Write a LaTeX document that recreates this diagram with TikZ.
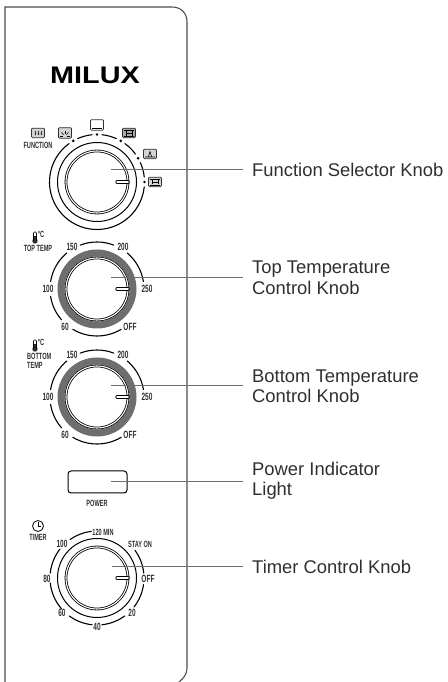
\documentclass[tikz,border=0pt]{standalone}
\usepackage{fontspec}
\setmainfont{Liberation Sans}
\newfontfamily\dialfont[FakeStretch=.62]{Liberation Sans}
\newfontfamily\logofont[FakeStretch=1.2]{Liberation Sans}
\tikzset{
  knobface/.style={circle,draw,fill=white,double=white,double distance=1.1,line width=.8,minimum size=62,inner sep=0,outer sep=0},
  plainring/.style={circle,draw,line width=1,minimum size=79,inner sep=0,outer sep=0},
  grayring/.style={circle,draw=ringgray,line width=7,minimum size=72,inner sep=0,outer sep=0},
  notch/.style={draw,double=white,double distance=1.8,line width=.7,line cap=round},
  dialarc/.style={line width=1.1,line cap=round},
  dialtext/.style={font=\dialfont\bfseries\fontsize{10.5}{11}\selectfont,text=textgray,inner sep=0},
  smalltext/.style={font=\dialfont\bfseries\fontsize{9}{9}\selectfont,text=textgray,inner sep=0},
  iconbox/.style={draw=textgray,line width=.7,rounded corners=1,minimum width=13,minimum height=9.5,inner sep=0},
  leader/.style={line width=.8,draw=ringgray},
  calltext/.style={font=\fontsize{18.4}{20.5}\selectfont,text=textgray,align=left,anchor=west,inner sep=0},
}
\definecolor{ringgray}{HTML}{6E6E6E}
\definecolor{textgray}{HTML}{2F2F2F}
\definecolor{icongray}{HTML}{D4D4D4}
\begin{document}
\begin{tikzpicture}[x=1pt,y=1pt]
  \useasboundingbox (0,0) rectangle (447,682);

  % panel outline
  \draw [line width=1.1,draw=ringgray!70!black] (5,0) -- (5,675) -- (172,675)
    .. controls (181,675) and (187,669) .. (187,660) -- (187,14)
    .. controls (187,8) and (184,4) .. (179,0);

  \node (logo) at (95,607) {\logofont\bfseries\fontsize{24}{24}\selectfont MILUX};

  % knobs
  \node (functionring) [plainring] at (97,500) {};
  \node (topring)      [grayring]  at (97,393) {};
  \node (bottomring)   [grayring]  at (97,285) {};
  \node (timerring)    [plainring] at (97,104) {};

  \node (functionknob) [knobface] at (97,500) {};
  \node (topknob)      [knobface] at (97,393) {};
  \node (bottomknob)   [knobface] at (97,285) {};
  \node (timerknob)    [knobface] at (97,104) {};

  \foreach \k in {functionknob,topknob,bottomknob,timerknob}
    \draw [notch] ([xshift=20]\k.center) -- ([xshift=31]\k.center);

  % function scale
  \draw [dialarc] ([shift=(126:47.5)]functionknob.center) arc [start angle=126,end angle=354,radius=47.5];
  \foreach \a in {6,36,66,96}
    \draw [dialarc] ([shift=(\a:47.5)]functionknob.center) arc [start angle=\a,delta angle=18,radius=47.5];
  \foreach \a in {0,30,60,90,120}
    \fill ([shift=(\a:47.5)]functionknob.center) circle (1.4);

  % temperature scales
  \foreach \k in {topknob,bottomknob}
    \foreach \from/\to in {69/111,130/171,189/221,239/301,9/50}
      \draw [dialarc] ([shift=(\from:47)]\k.center) arc [start angle=\from,end angle=\to,radius=47];

  % timer scale
  \foreach \from/\to in {97/125,142/174,186/221,234/264,276/306,322/352,6/36}
    \draw [dialarc] ([shift=(\from:47)]timerknob.center) arc [start angle=\from,end angle=\to,radius=47];

  % function icons
  \node (bakeicon)  [iconbox,fill=icongray] at (38,549) {};
  \node (sunicon)   [iconbox,fill=icongray,minimum height=10.5] at (65,549) {};
  \node (ovenicon)  [iconbox,minimum height=10.5] at (97,557) {};
  \node (grillicon) [iconbox,fill=ringgray!60] at (129,549) {};
  \node (fanicon)   [iconbox,fill=icongray] at (150,528) {};
  \node (dualicon)  [iconbox,fill=icongray] at (155,500) {};
  \foreach \d in {-3,0,3}
    \draw [line width=.6] ([xshift=\d,yshift=-2]bakeicon.center) -- ++(1,1) -- ++(-1,1) -- ++(1,2);
  \foreach \a in {0,45,...,180}
    \draw [line width=.5] ([yshift=-3]sunicon.center) ++(\a:2) -- ++(\a:3);
  \draw [line width=.6] ([yshift=-3.5]ovenicon.center) ++(-5,0) -- ++(10,0);
  \foreach \k/\d in {grillicon/3,grillicon/-3,dualicon/3,dualicon/-3}
    \draw [line width=.6] ([yshift=\d]\k.center) ++(-5,0) -- ++(10,0);
  \draw [line width=.7] (grillicon.center) ++(-3,-3) -- ++(0,6) ++(6,-6) -- ++(0,6) (grillicon.center) ++(-3,0) -- ++(6,0);
  \draw [line width=.7] (dualicon.center) ++(-3,-2) -- ++(0,4) ++(6,-4) -- ++(0,4) (dualicon.center) ++(-3,0) -- ++(6,0);
  \draw [line width=.6] (fanicon.center) ++(-1.5,-2.5) -- ++(1.5,5) -- ++(1.5,-5) (fanicon.center) ++(-5,-3) -- ++(10,0);

  \node (functiontext) [smalltext] at (38,537) {FUNCTION};

  % thermometers
  \foreach \n/\x/\y in {topthermo/35/441,bottomthermo/35/333}{
    \fill [textgray] (\x,\y) circle (2.7);
    \draw [line width=.6,rounded corners=1] (\x-1.5,\y) -- (\x-1.5,\y+9) -- (\x+1.5,\y+9) -- (\x+1.5,\y);
    \fill [textgray] (\x-.6,\y) rectangle (\x+.6,\y+5);
  }
  \node (topdegree)    [smalltext] at (41,448) {°C};
  \node (bottomdegree) [smalltext] at (41,340) {°C};
  \node (toptemp)      [smalltext] at (38,434) {TOP TEMP};
  \node (bottomtemp)   [smalltext,align=left,anchor=west] at (27,321) {BOTTOM\\TEMP};

  % top and bottom numbers
  \foreach \k/\yy in {top/393,bottom/285}{
    \node (\k150) [dialtext] at (72,\yy+42) {150};
    \node (\k200) [dialtext] at (123,\yy+42) {200};
    \node (\k100) [dialtext] at (48,\yy) {100};
    \node (\k250) [dialtext] at (147,\yy) {250};
    \node (\k60)  [dialtext] at (65,\yy-38) {60};
    \node (\k off) [dialtext] at (130,\yy-38) {OFF};
  }

  % power light
  \node (powerlight) [draw,line width=1,rounded corners=3,minimum width=59,minimum height=22,inner sep=0] at (97.5,200) {};
  \node (powertext)  [smalltext] at (97,179) {POWER};

  % timer
  \node (clockface) [circle,draw,line width=.8,minimum size=11,inner sep=0] at (38,156) {};
  \draw [line width=.7] (clockface.center) -- ++(0,4) (clockface.center) -- ++(3,0);
  \node (timertext) [smalltext] at (38,145) {TIMER};
  \node (timer120) [smalltext] at (103,150) {120 MIN};
  \node (timer100) [dialtext] at (62,138) {100};
  \node (timerstay) [smalltext] at (140,138) {STAY ON};
  \node (timer80)  [dialtext] at (47,103) {80};
  \node (timeroff) [dialtext] at (148,103) {OFF};
  \node (timer60)  [dialtext] at (62,69) {60};
  \node (timer20)  [dialtext] at (132,69) {20};
  \node (timer40)  [dialtext] at (97,55) {40};

  % callouts
  \coordinate (functionstart) at (111,513);
  \coordinate (topstart)      at (111,405);
  \coordinate (bottomstart)   at (111,297);
  \coordinate (powerstart)    at (111,201);
  \coordinate (timerstart)    at (112,116);
  \coordinate (functionend)   at (243,513);
  \coordinate (topend)        at (243,405);
  \coordinate (bottomend)     at (243,297);
  \coordinate (powerend)      at (243,201);
  \coordinate (timerend)      at (243,116);

  \foreach \k in {function,top,bottom,power,timer}
    \draw [leader] (\k start) -- (\k end);

  \node (functionlabel) [calltext] at (252,512) {Function Selector Knob};
  \node (toplabel)      [calltext] at (252,404) {Top Temperature\\Control Knob};
  \node (bottomlabel)   [calltext] at (252,295.5) {Bottom Temperature\\Control Knob};
  \node (powerlabel)    [calltext] at (252,201.5) {Power Indicator\\Light};
  \node (timerlabel)    [calltext] at (252,115) {Timer Control Knob};
\end{tikzpicture}
\end{document}
